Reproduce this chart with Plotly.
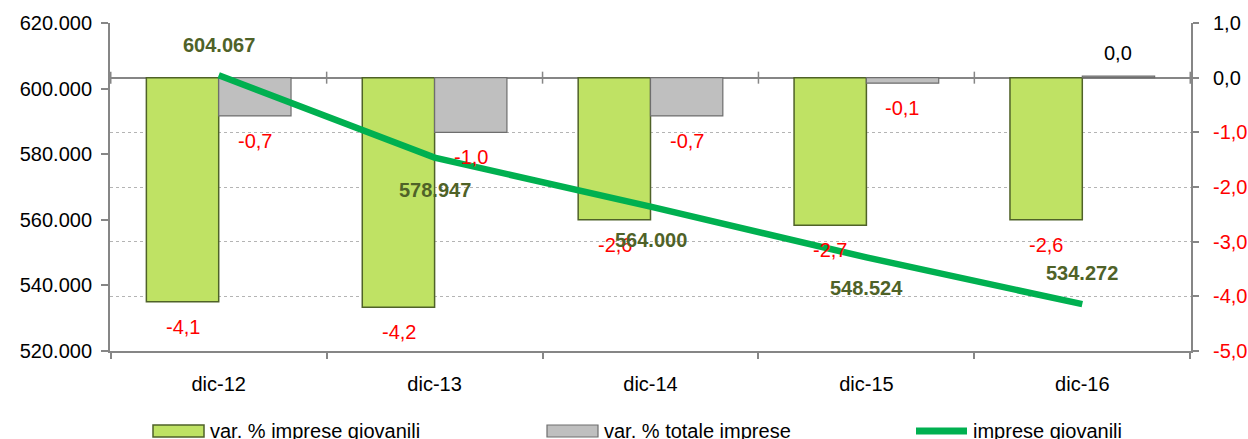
import plotly.graph_objects as go

categories = ["dic-12", "dic-13", "dic-14", "dic-15", "dic-16"]
var_giovanili = [-4.1, -4.2, -2.6, -2.7, -2.6]
var_totale = [-0.7, -1.0, -0.7, -0.1, 0.03]
imprese_giovanili = [604067, 578947, 564000, 548524, 534272]
right_ticks = [1, 0, -1, -2, -3, -4, -5]
left_ticks = [520000, 540000, 560000, 580000, 600000, 620000]

# label placement (pixels) for the line labels
line_label_shift = [30, -32, -33, -31, 31]

FONT = "Liberation Sans, Arial, sans-serif"
FS = 20
AXC = "#868686"
L, R, T, B = 110, 57, 23, 88
W, H = 1248, 439
PW, PH = W - L - R, H - T - B


def xp(px):
    return (px - L) / PW


def yp(py):
    return (H - B - py) / PH


def it(v):
    return f"{v:.1f}".replace(".", ",")


fig = go.Figure()
fig.add_trace(go.Bar(
    x=categories, y=var_giovanili, name="var. % imprese giovanili",
    marker=dict(color="#BFE264", line=dict(color="#4F6228", width=1.5)),
    yaxis="y", showlegend=False))
fig.add_trace(go.Bar(
    x=categories, y=var_totale, name="var. % totale imprese",
    marker=dict(color="#BFBFBF", line=dict(color="#6E6E6E", width=1.2)),
    yaxis="y", showlegend=False))
fig.add_trace(go.Scatter(
    x=categories, y=imprese_giovanili, name="imprese giovanili",
    mode="lines", line=dict(color="#00B050", width=6.5),
    yaxis="y2", showlegend=False))

ann = []
for c, v in zip(categories, var_giovanili):
    ann.append(dict(x=c, y=v, xref="x", yref="y", text=it(v), showarrow=False,
                    xshift=-36, yshift=-25 if v < 0 else 23,
                    font=dict(family=FONT, size=FS, color="#FF0000" if v < 0 else "#000000")))
for c, v in zip(categories, var_totale):
    ann.append(dict(x=c, y=v, xref="x", yref="y", text=it(v), showarrow=False,
                    xshift=36, yshift=-25 if v < 0 else 23,
                    font=dict(family=FONT, size=FS, color="#FF0000" if v < 0 else "#000000")))
for c, v, s in zip(categories, imprese_giovanili, line_label_shift):
    ann.append(dict(x=c, y=v, xref="x", yref="y2", text=f"{v:,}".replace(",", "."),
                    showarrow=False, yshift=s,
                    font=dict(family=FONT, size=FS, color="#4F6228", weight="bold")))

# manual legend
shapes = []
leg_y = 431
shapes.append(dict(type="rect", xref="paper", yref="paper", x0=xp(153), x1=xp(204),
                   y0=yp(437), y1=yp(425), fillcolor="#BFE264",
                   line=dict(color="#4F6228", width=1.5)))
shapes.append(dict(type="rect", xref="paper", yref="paper", x0=xp(547), x1=xp(598),
                   y0=yp(437), y1=yp(425), fillcolor="#BFBFBF",
                   line=dict(color="#6E6E6E", width=1.2)))
shapes.append(dict(type="line", xref="paper", yref="paper", x0=xp(916), x1=xp(967),
                   y0=yp(leg_y), y1=yp(leg_y), line=dict(color="#00B050", width=7)))
for px, txt in [(208, "var. % imprese giovanili"), (602, "var. % totale imprese"),
                (971, "imprese giovanili")]:
    ann.append(dict(x=xp(px), y=yp(431), xref="paper", yref="paper", text=txt,
                    showarrow=False, xanchor="left", yanchor="middle",
                    font=dict(family=FONT, size=FS, color="#000000")))

# tick crosses on the zero line at category boundaries
for i in range(len(categories) + 1):
    shapes.append(dict(type="line", xref="x", yref="y", x0=i - 0.5, x1=i - 0.5,
                       ysizemode="pixel", yanchor=0, y0=-6, y1=6,
                       line=dict(color=AXC, width=1.5)))

right_text = [it(v) if v >= 0 else f'<span style="color:#FF0000">{it(v)}</span>'
              for v in right_ticks]

fig.update_layout(
    width=W, height=H,
    margin=dict(l=L, r=R, t=T, b=B, autoexpand=False),
    paper_bgcolor="white", plot_bgcolor="white",
    separators=",.",
    barmode="group", bargap=0.33, bargroupgap=0,
    font=dict(family=FONT, size=FS, color="#000000"),
    xaxis=dict(type="category", showline=True, linecolor=AXC, linewidth=2,
               ticks="outside", tickson="boundaries", ticklen=6, tickcolor=AXC,
               tickwidth=1.5, showgrid=False, zeroline=False, automargin=False,
               ticklabelstandoff=14, tickfont=dict(family=FONT, size=FS)),
    yaxis=dict(side="right", range=[-5, 1], tickvals=right_ticks, ticktext=right_text,
               showline=True, linecolor=AXC, linewidth=2, ticks="outside", ticklen=6,
               tickcolor=AXC, tickwidth=1.5, showgrid=True, gridcolor="#B4B4B4",
               griddash="dot", gridwidth=1, zeroline=True, zerolinecolor=AXC,
               zerolinewidth=2, ticklabelstandoff=10, automargin=False,
               tickfont=dict(family=FONT, size=FS)),
    yaxis2=dict(side="left", overlaying="y", range=[520000, 620000], tickvals=left_ticks,
                tickformat=",d", showline=True, linecolor=AXC, linewidth=2,
                ticks="outside", ticklen=7, tickcolor=AXC, tickwidth=1.5,
                showgrid=False, zeroline=False, ticklabelstandoff=5, automargin=False,
                tickfont=dict(family=FONT, size=FS)),
    annotations=ann, shapes=shapes,
)

fig.write_html("out.html")
